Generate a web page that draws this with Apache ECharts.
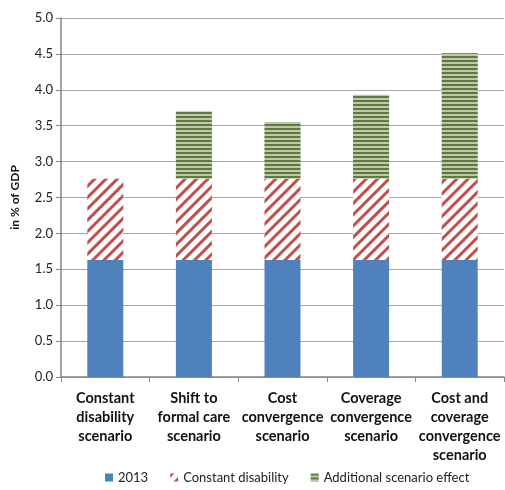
<!DOCTYPE html>
<html>
<head>
<meta charset="utf-8">
<script src="https://cdn.jsdelivr.net/npm/echarts@6/dist/echarts.min.js"></script>
<style>
  html, body { margin: 0; padding: 0; background: #fff; }
  #main { width: 505px; height: 490px; }
</style>
</head>
<body>
<div id="main"></div>
<script>
var categories = [
    'Constant\ndisability\nscenario',
    'Shift to\nformal care\nscenario',
    'Cost\nconvergence\nscenario',
    'Coverage\nconvergence\nscenario',
    'Cost and\ncoverage\nconvergence\nscenario'
];
var base2013 = [1.63, 1.63, 1.63, 1.63, 1.63];
var constantDisability = [1.13, 1.13, 1.13, 1.13, 1.13];
var additionalEffect = [0, 0.94, 0.79, 1.17, 1.75];
var yTicks = ['0.0', '0.5', '1.0', '1.5', '2.0', '2.5', '3.0', '3.5', '4.0', '4.5', '5.0'];

var font = 'Lato, "Open Sans", sans-serif';

var option = {
    backgroundColor: '#fff',
    animation: false,
    grid: { left: 61, right: 1, top: 18, bottom: 113 },
    legend: {
        bottom: 1,
        left: 100,
        icon: 'rect',
        itemWidth: 8,
        itemHeight: 8,
        itemGap: 22,
        textStyle: { fontFamily: font, fontSize: 13, color: '#222' },
        data: ['2013', 'Constant disability', 'Additional scenario effect']
    },
    xAxis: {
        type: 'category',
        data: categories,
        axisLine: { lineStyle: { color: '#868686', width: 1.5 } },
        axisTick: { show: true, length: 5, lineStyle: { color: '#868686' } },
        axisLabel: {
            interval: 0,
            margin: 12,
            fontFamily: font,
            fontWeight: 'bold',
            fontSize: 14.5,
            lineHeight: 19,
            color: '#111'
        }
    },
    yAxis: {
        type: 'value',
        min: 0,
        max: 5,
        interval: 0.5,
        name: 'in % of GDP',
        nameLocation: 'middle',
        nameGap: 40,
        nameTextStyle: { fontFamily: font, fontWeight: 'bold', fontSize: 12, color: '#111' },
        axisLine: { show: true, lineStyle: { color: '#868686', width: 1.5 } },
        axisTick: { show: true, length: 5, lineStyle: { color: '#868686' } },
        splitLine: { lineStyle: { color: '#a6a6a6', width: 1.2 } },
        axisLabel: {
            fontFamily: font,
            fontSize: 13,
            color: '#222',
            margin: 8,
            formatter: function (v) { return yTicks[Math.round(v * 2)]; }
        }
    },
    series: [
        {
            name: '2013',
            type: 'bar',
            stack: 'total',
            barWidth: 36,
            data: base2013,
            itemStyle: { color: '#4f81bd' }
        },
        {
            name: 'Constant disability',
            type: 'bar',
            stack: 'total',
            data: constantDisability,
            itemStyle: {
                color: '#ffffff',
                decal: {
                    symbol: 'rect',
                    symbolSize: 1,
                    color: '#c0504d',
                    dashArrayX: [1, 0],
                    dashArrayY: [3, 5],
                    rotation: -Math.PI / 4
                }
            }
        },
        {
            name: 'Additional scenario effect',
            type: 'bar',
            stack: 'total',
            data: additionalEffect,
            itemStyle: {
                color: '#bcc8a8',
                decal: {
                    symbol: 'rect',
                    symbolSize: 1,
                    color: '#5f7a3c',
                    dashArrayX: [1, 0],
                    dashArrayY: [1.5, 1.5],
                    rotation: 0
                }
            }
        }
    ]
};

var myChart = echarts.init(document.getElementById('main'));
myChart.setOption(option);
</script>
</body>
</html>
